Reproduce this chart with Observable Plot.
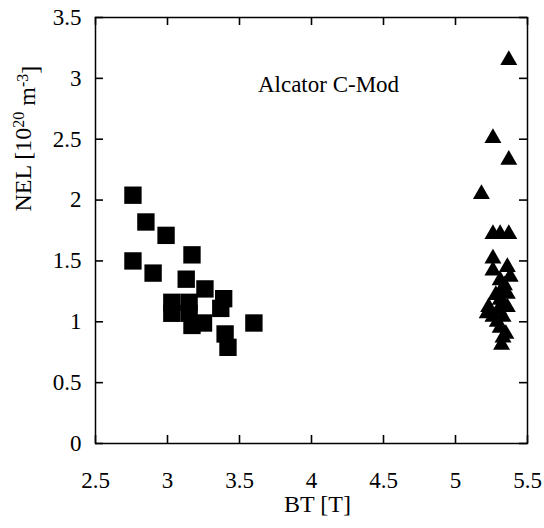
<!DOCTYPE html>
<html>
<head>
<meta charset="utf-8">
<script src="https://cdn.jsdelivr.net/npm/d3@7"></script>
<script src="https://cdn.jsdelivr.net/npm/@observablehq/plot@0.6"></script>
<style>
  html, body { margin: 0; padding: 0; background: white; }
</style>
</head>
<body>
<div id="chart"></div>
<script>
// Squares (left cluster)
const squareBT  = [2.76, 2.85, 2.99, 3.17, 2.76, 2.90, 3.13, 3.26, 3.03, 3.15, 3.03, 3.15, 3.17, 3.25, 3.39, 3.37, 3.60, 3.40, 3.42];
const squareNEL = [2.04, 1.82, 1.71, 1.55, 1.50, 1.40, 1.35, 1.27, 1.16, 1.16, 1.07, 1.07, 0.97, 0.99, 1.19, 1.11, 0.99, 0.90, 0.79];

// Triangles (right cluster)
const triBT  = [5.37, 5.26, 5.37, 5.18, 5.26, 5.31, 5.37, 5.26, 5.36, 5.26, 5.31, 5.38, 5.32, 5.36, 5.31, 5.23, 5.36, 5.22, 5.26, 5.33, 5.31, 5.33, 5.32, 5.35, 5.29, 5.34, 5.28, 5.30, 5.33];
const triNEL = [3.15, 2.51, 2.33, 2.05, 1.72, 1.72, 1.72, 1.52, 1.45, 1.42, 1.34, 1.37, 1.26, 1.23, 1.18, 1.12, 1.12, 1.07, 1.04, 1.04, 0.95, 0.87, 0.81, 0.90, 1.00, 1.30, 1.22, 1.10, 1.15];

const xTicks = [2.5, 3, 3.5, 4, 4.5, 5, 5.5];
const yTicks = [0, 0.5, 1, 1.5, 2, 2.5, 3, 3.5];
const xLabel = "BT [T]";
const yLabel = "NEL [10^20 m^-3]";
const annotation = "Alcator C-Mod";

const squares = squareBT.map((x, i) => ({x, y: squareNEL[i]}));
const tris = triBT.map((x, i) => ({x, y: triNEL[i]}));
const fmt = d => String(d);

const W = 544, H = 528, mL = 95, mR = 17, mT = 17, mB = 85;
const innerW = W - mL - mR, innerH = H - mT - mB, tk = 8;

const plot = Plot.plot({
  width: W,
  height: H,
  marginLeft: mL,
  marginRight: mR,
  marginTop: mT,
  marginBottom: mB,
  x: {domain: [2.5, 5.5]},
  y: {domain: [0, 3.5]},
  style: {fontFamily: "'Liberation Serif', 'Times New Roman', serif", fontSize: "23px", background: "white", color: "black"},
  marks: [
    Plot.frame({stroke: "black", strokeWidth: 1.5}),
    // inward ticks on all four sides (y1 = top end, y2 = bottom end in screen space)
    Plot.ruleX(xTicks, {x: d => d, y1: 3.5, y2: 0, insetTop: innerH - tk, stroke: "black", strokeWidth: 1.6}),
    Plot.ruleX(xTicks, {x: d => d, y1: 3.5, y2: 0, insetBottom: innerH - tk, stroke: "black", strokeWidth: 1.6}),
    Plot.ruleY(yTicks, {y: d => d, x1: 2.5, x2: 5.5, insetRight: innerW - tk, stroke: "black", strokeWidth: 1.6}),
    Plot.ruleY(yTicks, {y: d => d, x1: 2.5, x2: 5.5, insetLeft: innerW - tk, stroke: "black", strokeWidth: 1.6}),
    // tick labels
    Plot.axisX({ticks: xTicks, anchor: "bottom", tickSize: 0, tickPadding: 28, tickFormat: fmt, label: null, fontSize: 23}),
    Plot.axisY({ticks: yTicks, anchor: "left", tickSize: 0, tickPadding: 14, tickFormat: fmt, label: null, fontSize: 23}),
    // axis titles
    Plot.text([xLabel], {frameAnchor: "bottom", dx: 6, dy: 68, fontSize: 24, fill: "black"}),
    Plot.text([yLabel], {frameAnchor: "left", rotate: -90, dx: -72, dy: -19, fontSize: 24, fill: "black"}),
    Plot.text([annotation], {frameAnchor: "top", dx: 17, dy: 58, fontSize: 23, fill: "black"}),
    // data
    Plot.dot(squares, {x: "x", y: "y", symbol: "square", r: 9.8, fill: "black", stroke: "none"}),
    Plot.dot(tris, {x: "x", y: "y", symbol: "triangle", r: 6.3, fill: "black", stroke: "none"})
  ]
});

// superscripts in y label
d3.select(plot).selectAll("text").filter(function() { return this.textContent === yLabel; }).each(function() {
  const t = d3.select(this);
  t.text(null);
  t.append("tspan").text("NEL [10");
  t.append("tspan").attr("dy", "-0.45em").attr("font-size", "16px").text("20");
  t.append("tspan").attr("dy", "0.45em").text(" m");
  t.append("tspan").attr("dy", "-0.45em").attr("font-size", "16px").text("-3");
  t.append("tspan").attr("dy", "0.45em").text("]");
});

document.getElementById("chart").append(plot);
</script>
</body>
</html>
